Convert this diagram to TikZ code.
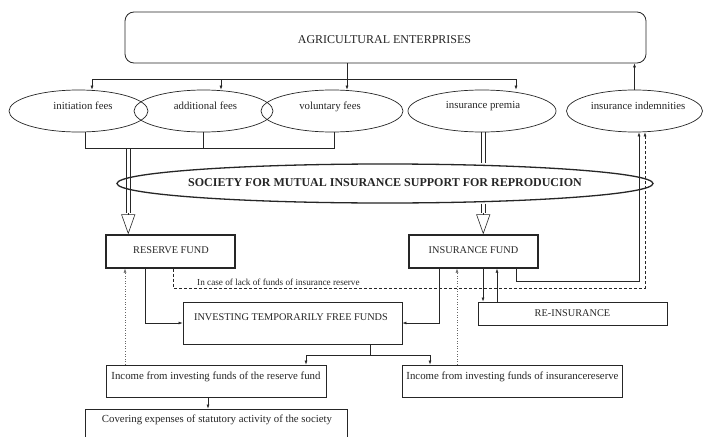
\documentclass[tikz,border=0pt]{standalone}
\usepackage{fontspec}
\setmainfont{Liberation Serif}
\usetikzlibrary{shapes.geometric,arrows.meta}
\begin{document}
\begin{tikzpicture}[x=1pt,y=-1pt,
  box/.style={draw=black!85, line width=0.9pt, rectangle, inner sep=0pt},
  fundbox/.style={box, line width=1.3pt},
  ell/.style={draw=black!85, line width=0.7pt, ellipse, inner sep=0pt},
  txt/.style={inner sep=0pt, text=black!85, font=\fontsize{10.8}{12}\selectfont},
  captxt/.style={txt, font=\fontsize{10.3}{12}\selectfont},
  conn/.style={draw=black!85, line width=0.6pt},
  arr/.style={conn, -{Latex[length=4pt,width=3pt]}},
  dotarr/.style={arr, draw=black!60, dotted, line width=0.5pt},
  dasharr/.style={arr, dash pattern=on 3pt off 2pt},
  hollowhead/.style={conn, -{Triangle[open,length=20pt,width=14pt]}},
]
\useasboundingbox (0,0) rectangle (703,436);
\fill[white] (0,0) rectangle (703,436);
\clip (0,0) rectangle (703,436);

% top box
\node[box, rounded corners=9pt, line width=0.8pt, minimum width=521pt, minimum height=51pt] (ae) at (385.5,37.5) {};
\node[txt, font=\fontsize{12}{14}\selectfont] (aeT) at (384.5,40) {AGRICULTURAL ENTERPRISES};

% ellipses
\node[ell, minimum width=139pt, minimum height=42pt] (init) at (78.5,111) {};
\node[ell, minimum width=139pt, minimum height=42pt] (add) at (203.5,111) {};
\node[ell, minimum width=142pt, minimum height=42pt] (vol) at (332,111) {};
\node[ell, minimum width=148pt, minimum height=42pt] (prem) at (482,111) {};
\node[ell, minimum width=136pt, minimum height=42pt] (ind) at (634.5,111) {};
\node[txt] (initT) at (83,106) {initiation fees};
\node[txt] (addT) at (205.5,106) {additional fees};
\node[txt] (volT) at (330,106.5) {voluntary fees};
\node[txt] (premT) at (483,106.5) {insurance premia};
\node[txt] (indT) at (638,105.5) {insurance indemnities};

% society ellipse
\node[ell, line width=1.3pt, minimum width=536pt, minimum height=39pt] (soc) at (385,183.5) {};
\node[txt, font=\fontsize{12}{14}\selectfont\bfseries] (socT) at (385,183) {SOCIETY FOR MUTUAL INSURANCE SUPPORT FOR REPRODUCION};

% boxes
\node[fundbox, minimum width=129pt, minimum height=33pt] (rf) at (170.5,251.5) {};
\node[captxt] (rfT) at (171,250.5) {RESERVE FUND};
\node[fundbox, minimum width=129pt, minimum height=33pt] (if) at (473.5,251.5) {};
\node[captxt] (ifT) at (473.5,250.5) {INSURANCE FUND};
\node[box, minimum width=219pt, minimum height=42pt] (inv) at (292.5,323) {};
\node[captxt] (invT) at (291,317) {INVESTING TEMPORARILY FREE FUNDS};
\node[box, minimum width=189pt, minimum height=23pt] (re) at (572.5,313.5) {};
\node[captxt] (reT) at (572.5,313.5) {RE-INSURANCE};
\node[box, minimum width=220pt, minimum height=32pt] (inr) at (216,381) {};
\node[txt] (inrT) at (216,376.5) {Income from investing funds of the reserve fund};
\node[box, minimum width=220pt, minimum height=32pt] (ini) at (512,381) {};
\node[txt] (iniT) at (512.5,376.5) {Income from investing funds of insurancereserve};
\node[box, minimum width=262pt, minimum height=50pt] (cov) at (216,434) {};
\node[txt] (covT) at (217,420) {Covering expenses of statutory activity of the society};
\node[txt, font=\fontsize{9.2}{11}\selectfont, anchor=west] (caseT) at (197,282) {In case of lack of funds of insurance reserve};

% distribution from top box
\coordinate (hL) at (92,79);
\coordinate (hM) at (221,79);
\coordinate (hR) at (516,79);
\coordinate (aeo) at (347,63);
\draw[arr] (aeo) -- (aeo |- vol.north);
\draw[conn] (hL) -- (hR);
\draw[arr] (hL) -- (hL |- init.north);
\draw[arr] (hM) -- (hM |- add.north);
\draw[arr] (hR) -- (hR |- prem.north);
\draw[arr] (ind.north) -- (ind.north |- ae.south);

% bracket under fees
\coordinate (bL) at (85,148);
\coordinate (bM) at (203,148);
\coordinate (bR) at (334,148);
\draw[conn] (bL |- init.south) -- (bL) -- (bR) -- (bR |- vol.south);
\draw[conn] (add.south) -- (add.south |- bM);

% hollow arrows (two parallel shaft lines + open head)
\coordinate (sL1) at (126,148);
\coordinate (sL2) at (130.5,148);
\coordinate (hdL) at (128.25,213);
\draw[conn] (sL1) -- (sL1 |- hdL);
\draw[conn] (sL2) -- (sL2 |- hdL);
\draw[hollowhead] (hdL) -- (hdL |- rf.north);
\coordinate (sR1) at (481,132);
\coordinate (sR2) at (485.5,132);
\coordinate (hdR) at (483.25,213);
\draw[conn] (sR1) -- (sR1 |- soc.north);
\draw[conn] (sR2) -- (sR2 |- soc.north);
\draw[conn] (sR1 |- soc.south) -- (sR1 |- hdR);
\draw[conn] (sR2 |- soc.south) -- (sR2 |- hdR);
\draw[hollowhead] (hdR) -- (hdR |- if.north);

% reserve fund connectors
\coordinate (rfo) at ([xshift=-25.5pt]rf.south);
\coordinate (rfD) at ([xshift=3pt]rf.south);
\draw[arr] (rfo) |- (inv.west);

% insurance fund connectors
\coordinate (ifA) at ([xshift=-34.5pt]if.south);
\coordinate (ifB) at ([xshift=-16.5pt]if.south);
\coordinate (ifC) at ([xshift=9.5pt]if.south);
\coordinate (ifD) at ([xshift=23.5pt]if.south);
\coordinate (ifE) at ([xshift=42.5pt]if.south);
\coordinate (indS1) at ([xshift=4.5pt]ind.south);
\coordinate (indS2) at ([xshift=10.5pt]ind.south);
\coordinate (rowS) at (0,281);
\coordinate (rowD) at (0,288);
\draw[arr] (ifA) |- (inv.east);
\draw[dotarr] (ifB |- ini.north) -- (ifB);
\draw[arr] (ifC) -- (ifC |- re.north);
\draw[arr] (ifD |- re.north) -- (ifD);
\draw[arr] (ifE) -- (ifE |- rowS) -| (indS1);
\draw[dasharr] (rfD) -- (rfD |- rowD) -| (indS2);

% investing branch
\coordinate (invo) at ([xshift=77.5pt]inv.south);
\coordinate (rowB) at (0,355);
\coordinate (inrIn) at ([xshift=90pt]inr.north);
\coordinate (iniIn) at ([xshift=-82pt]ini.north);
\draw[arr] (invo) -- (invo |- rowB) -| (inrIn);
\draw[arr] (invo |- rowB) -| (iniIn);

% income connectors
\coordinate (inrU) at ([xshift=-91pt]inr.north);
\draw[dotarr] (inrU) -- (inrU |- rf.south);
\coordinate (inrD) at ([xshift=-8pt]inr.south);
\draw[arr] (inrD) -- (inrD |- cov.north);
\end{tikzpicture}
\end{document}
